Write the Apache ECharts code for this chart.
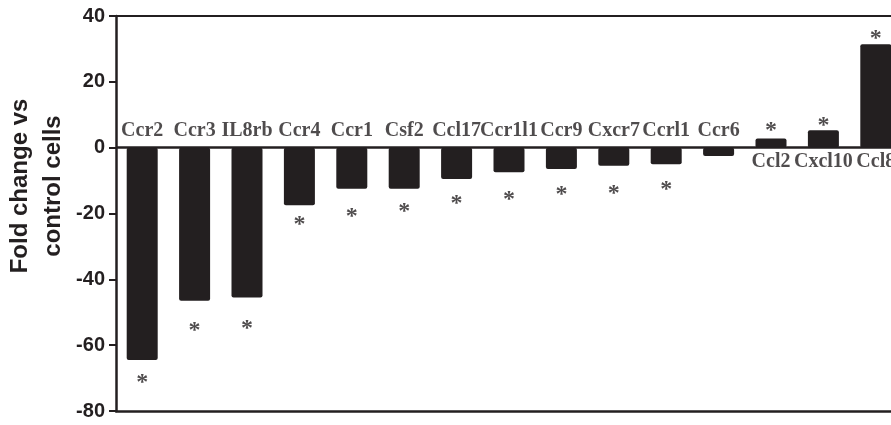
<!DOCTYPE html>
<html>
<head>
<meta charset="utf-8">
<style>
  html, body { margin: 0; padding: 0; background: #fff; }
  #chart { width: 891px; height: 425px; }
</style>
<script src="https://cdn.jsdelivr.net/npm/echarts@6/dist/echarts.min.js"></script>
</head>
<body>
<div id="chart"></div>
<script>
const categories = ['Ccr2', 'Ccr3', 'IL8rb', 'Ccr4', 'Ccr1', 'Csf2', 'Ccl17', 'Ccr1l1', 'Ccr9', 'Cxcr7', 'Ccrl1', 'Ccr6', 'Ccl2', 'Cxcl10', 'Ccl8'];
const foldChange = [-64.5, -46.5, -45.5, -17.5, -12.5, -12.5, -9.5, -7.5, -6.5, -5.5, -5, -2.5, 2.8, 5.3, 31.4];
// value at which each significance asterisk sits ('-' = not significant)
const asteriskValues = [-70, -54.2, -53.4, -21.8, -19.5, -18, -15.4, -14.2, -12.7, -12.4, -11.4, '-', 6.5, 8.1, 34.7];
const yMin = -80, yMax = 40, yStep = 20;
const yTitle = 'Fold change vs\ncontrol cells';

const ink = '#231f20';
const chart = echarts.init(document.getElementById('chart'), null, { renderer: 'canvas' });

chart.setOption({
  animation: false,
  grid: { left: 116, right: -11, top: 16, bottom: 14, containLabel: false, outerBoundsMode: 'none' },
  xAxis: [
    {
      type: 'category',
      data: categories,
      position: 'bottom',
      axisLine: { onZero: false, lineStyle: { color: ink, width: 2.5 } },
      axisTick: { alignWithLabel: true, length: 6, lineStyle: { color: ink, width: 2 } },
      axisLabel: { show: false },
      splitLine: { show: false }
    },
    {
      type: 'category',
      data: categories,
      position: 'top',
      axisLine: { onZero: false, lineStyle: { color: ink, width: 2 } },
      axisTick: { show: false },
      axisLabel: { show: false }
    }
  ],
  yAxis: {
    type: 'value',
    min: yMin, max: yMax, interval: yStep,
    name: yTitle,
    nameLocation: 'middle',
    nameRotate: 90,
    nameGap: 46,
    nameMoveOverlap: false,
    nameTextStyle: {
      fontFamily: 'Liberation Sans, Arial, sans-serif',
      fontWeight: 'bold',
      fontSize: 24,
      lineHeight: 33,
      color: ink,
      padding: [0, 0, 0, 55]
    },
    axisLine: { show: true, lineStyle: { color: ink, width: 2.5 } },
    axisTick: { show: true, length: 7, lineStyle: { color: ink, width: 2 } },
    axisLabel: {
      margin: 11,
      fontFamily: 'Liberation Sans, Arial, sans-serif',
      fontWeight: 'bold',
      fontSize: 20,
      color: ink
    },
    splitLine: { show: false }
  },
  series: [
    {
      type: 'bar',
      data: foldChange,
      barWidth: 31,
      itemStyle: { color: ink, borderRadius: 2 },
      emphasis: { disabled: true },
      markLine: {
        silent: true,
        symbol: 'none',
        label: { show: false },
        lineStyle: { color: ink, width: 2.5, type: 'solid' },
        data: [{ yAxis: 0 }]
      },
      z: 2
    },
    {
      type: 'scatter',
      data: categories.map((c, i) => ({
        value: 0,
        label: {
          position: foldChange[i] < 0 ? 'top' : 'bottom',
          distance: foldChange[i] < 0 ? 6 : 4
        }
      })),
      symbolSize: 1,
      itemStyle: { color: 'rgba(0,0,0,0)' },
      emphasis: { disabled: true },
      silent: true,
      label: {
        show: true,
        formatter: p => categories[p.dataIndex],
        fontFamily: 'Liberation Serif, Times New Roman, serif',
        fontWeight: 'bold',
        fontSize: 20,
        color: ink
      },
      z: 5
    },
    {
      type: 'scatter',
      data: asteriskValues,
      symbolSize: 1,
      itemStyle: { color: 'rgba(0,0,0,0)' },
      emphasis: { disabled: true },
      silent: true,
      label: {
        show: true,
        position: 'inside',
        formatter: '*',
        offset: [0, 5],
        fontFamily: 'Liberation Serif, Times New Roman, serif',
        fontWeight: 'bold',
        fontSize: 24,
        color: ink
      },
      z: 5
    }
  ]
});
</script>
</body>
</html>
